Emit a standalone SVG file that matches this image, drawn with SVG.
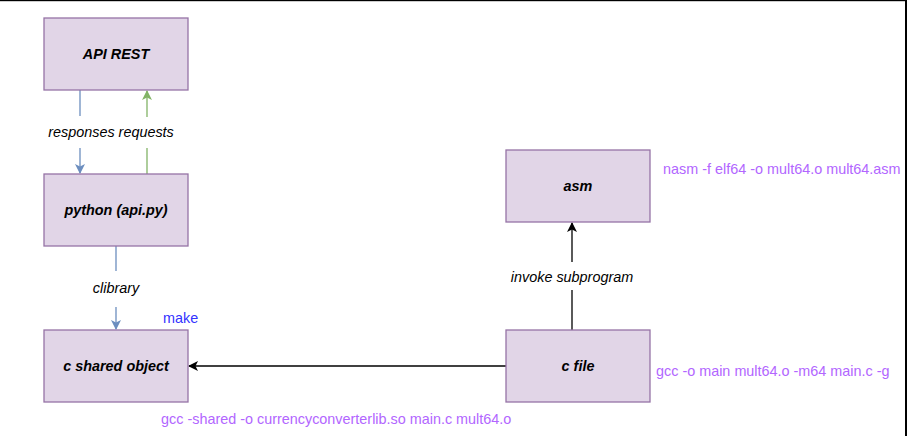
<svg xmlns="http://www.w3.org/2000/svg" width="907" height="436" viewBox="0 0 907 436">
<style>
.node rect{fill:#e1d5e7;stroke:#9673a6;stroke-width:1.3}
.nl{font-family:"Liberation Sans",Arial,sans-serif;font-size:14.4px;font-weight:bold;font-style:italic;fill:#000;text-anchor:middle}
.el{font-family:"Liberation Sans",Arial,sans-serif;font-size:14.4px;font-style:italic;fill:#000;text-anchor:middle}
.cmd{font-family:"Liberation Sans",Arial,sans-serif;font-size:14.4px;fill:#b266ff}
.blue{stroke:#6c8ebf;stroke-width:1.3;fill:none}
.green{stroke:#82b366;stroke-width:1.3;fill:none}
.black{stroke:#000;stroke-width:1.3;fill:none}
</style>
<defs>
<marker id="ab" viewBox="0 0 10 10" refX="9" refY="5" markerWidth="10" markerHeight="10" markerUnits="userSpaceOnUse" orient="auto"><path d="M0,0 L10,5 L0,10 L2.5,5 Z" fill="#6c8ebf"/></marker>
<marker id="ag" viewBox="0 0 10 10" refX="9" refY="5" markerWidth="10" markerHeight="10" markerUnits="userSpaceOnUse" orient="auto"><path d="M0,0 L10,5 L0,10 L2.5,5 Z" fill="#82b366"/></marker>
<marker id="ak" viewBox="0 0 10 10" refX="9" refY="5" markerWidth="10" markerHeight="10" markerUnits="userSpaceOnUse" orient="auto"><path d="M0,0 L10,5 L0,10 L2.5,5 Z" fill="#000"/></marker>
</defs>
<rect x="0" y="0" width="907" height="436" fill="#fff"/>
<rect x="0" y="0" width="907" height="1.2" fill="#000"/>
<rect x="905" y="0" width="2" height="436" fill="#000"/>
<g id="connectors">
<line class="blue" x1="80" y1="90" x2="80" y2="116"/>
<line class="blue" x1="80" y1="148" x2="80" y2="173" marker-end="url(#ab)"/>
<line class="green" x1="147" y1="174" x2="147" y2="148"/>
<line class="green" x1="147" y1="117" x2="147" y2="91" marker-end="url(#ag)"/>
<text class="el" x="111" y="137">responses requests</text>
<line class="blue" x1="116" y1="246" x2="116" y2="271"/>
<line class="blue" x1="116" y1="307" x2="116" y2="329" marker-end="url(#ab)"/>
<text class="el" x="116" y="293">clibrary</text>
<line class="black" x1="506" y1="366" x2="189" y2="366" marker-end="url(#ak)"/>
<line class="black" x1="572" y1="330" x2="572" y2="290"/>
<line class="black" x1="572" y1="262" x2="572" y2="223" marker-end="url(#ak)"/>
<text class="el" x="572" y="282">invoke subprogram</text>
</g>
<g id="api-rest" class="node"><rect x="44" y="18" width="144" height="72"/><text class="nl" x="116" y="59">API REST</text></g>
<g id="python" class="node"><rect x="44" y="174" width="144" height="72"/><text class="nl" x="116" y="215">python (api.py)</text></g>
<g id="c-shared-object" class="node"><rect x="44" y="330" width="144" height="72"/><text class="nl" x="116" y="371">c shared object</text></g>
<g id="asm" class="node"><rect x="506" y="150" width="144" height="72"/><text class="nl" x="578" y="191">asm</text></g>
<g id="c-file" class="node"><rect x="506" y="330" width="144" height="72"/><text class="nl" x="578" y="371">c file</text></g>
<g id="annotations">
<text x="163" y="323" font-family="Liberation Sans, Arial, sans-serif" font-size="14.4" fill="#3333ff">make</text>
<text class="cmd" x="663" y="174">nasm -f elf64 -o mult64.o mult64.asm</text>
<text class="cmd" x="656" y="376">gcc -o main mult64.o -m64 main.c -g</text>
<text class="cmd" x="161" y="424">gcc -shared -o currencyconverterlib.so main.c mult64.o</text>
</g>
</svg>
